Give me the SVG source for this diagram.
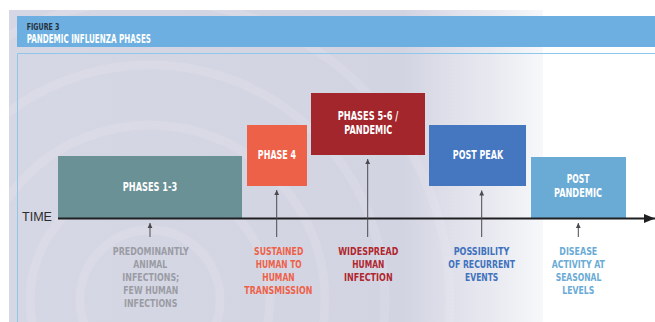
<svg xmlns="http://www.w3.org/2000/svg" width="655" height="322" viewBox="0 0 655 322">
  <defs>
    <linearGradient id="panelFade" x1="9" y1="0" x2="543" y2="0" gradientUnits="userSpaceOnUse">
      <stop offset="0" stop-color="#d6d7e4"/>
      <stop offset="0.74" stop-color="#d3d4e2"/>
      <stop offset="0.9" stop-color="#e8e9f0"/>
      <stop offset="1" stop-color="#f7f8fa"/>
    </linearGradient>
    <clipPath id="panelClip">
      <rect x="9" y="10" width="534" height="312"/>
    </clipPath>
    <marker id="tick" markerWidth="6" markerHeight="6" refX="5" refY="3" orient="auto" markerUnits="userSpaceOnUse">
      <path d="M0,0.6 L5,3 L0,5.4 Z" fill="#4a4a4e"/>
    </marker>
    <marker id="axisHead" markerWidth="12" markerHeight="10" refX="11" refY="5" orient="auto" markerUnits="userSpaceOnUse">
      <path d="M0,0.5 L11,5 L0,9.5 Z" fill="#1f1f22"/>
    </marker>
  </defs>
  <style>
    .box-text { font-family: "DejaVu Sans Condensed", "DejaVu Sans", sans-serif; font-stretch: condensed; font-weight: bold; font-size: 12.5px; fill: #ffffff; text-anchor: middle; }
    .note { font-family: "DejaVu Sans Condensed", "DejaVu Sans", sans-serif; font-stretch: condensed; font-weight: bold; font-size: 11.3px; text-anchor: middle; }
    .ring { fill: none; stroke: #ffffff; stroke-opacity: 0.1; stroke-width: 9; }
    .pointer { stroke: #4a4a4e; stroke-width: 1; fill: none; }
  </style>

  <!-- page background -->
  <rect x="0" y="0" width="655" height="322" fill="#ffffff"/>
  <rect x="9" y="10" width="534" height="312" fill="url(#panelFade)"/>

  <!-- faint concentric rings behind the timeline -->
  <g clip-path="url(#panelClip)">
    <circle class="ring" cx="150" cy="300" r="70"/>
    <circle class="ring" cx="150" cy="300" r="120"/>
    <circle class="ring" cx="150" cy="300" r="175"/>
    <circle class="ring" cx="150" cy="300" r="235"/>
    <circle class="ring" cx="150" cy="300" r="300"/>
  </g>

  <!-- title bar -->
  <g id="title">
    <rect x="17" y="16" width="638" height="31" fill="#6cafe0"/>
    <text x="26.7" y="29.5" font-family="DejaVu Sans Condensed, DejaVu Sans, sans-serif" font-stretch="condensed" font-weight="bold" font-size="9" fill="#27313d" textLength="32.7" lengthAdjust="spacingAndGlyphs">FIGURE 3</text>
    <text x="26.7" y="42.5" font-family="DejaVu Sans Condensed, DejaVu Sans, sans-serif" font-stretch="condensed" font-weight="bold" font-size="11.5" fill="#ffffff" textLength="124.3" lengthAdjust="spacingAndGlyphs">PANDEMIC INFLUENZA PHASES</text>
  </g>

  <!-- frame lines -->
  <path d="M17.5,322 V53.5 H655" fill="none" stroke="#8ec6ec" stroke-width="1"/>

  <!-- phase blocks -->
  <g id="phases-1-3">
    <rect x="58" y="156" width="184" height="62" fill="#6a9196"/>
    <text class="box-text" x="150" y="190.5" textLength="54.3" lengthAdjust="spacingAndGlyphs">PHASES 1-3</text>
  </g>
  <g id="phase-4">
    <rect x="247" y="125" width="60" height="61" fill="#ee6149"/>
    <text class="box-text" x="277" y="158.5" textLength="38.3" lengthAdjust="spacingAndGlyphs">PHASE 4</text>
  </g>
  <g id="phases-5-6">
    <rect x="311" y="93" width="114" height="62" fill="#a3262d"/>
    <text class="box-text" x="368" y="120" textLength="60.7" lengthAdjust="spacingAndGlyphs">PHASES 5-6 /</text>
    <text class="box-text" x="368.3" y="133.5" textLength="48" lengthAdjust="spacingAndGlyphs">PANDEMIC</text>
  </g>
  <g id="post-peak">
    <rect x="429" y="125" width="97" height="61" fill="#4477c0"/>
    <text class="box-text" x="478" y="158.5" textLength="50.3" lengthAdjust="spacingAndGlyphs">POST PEAK</text>
  </g>
  <g id="post-pandemic">
    <rect x="531" y="157" width="95" height="61" fill="#6aabd5"/>
    <text class="box-text" x="578" y="183" textLength="22.7" lengthAdjust="spacingAndGlyphs">POST</text>
    <text class="box-text" x="578" y="197" textLength="48" lengthAdjust="spacingAndGlyphs">PANDEMIC</text>
  </g>

  <!-- time axis and pointers -->
  <g id="connectors">
    <line x1="58" y1="218.5" x2="655" y2="218.5" stroke="#1f1f22" stroke-width="2" marker-end="url(#axisHead)"/>
    <line class="pointer" x1="150" y1="237" x2="150" y2="223" marker-end="url(#tick)"/>
    <line class="pointer" x1="276.7" y1="237" x2="276.7" y2="190" marker-end="url(#tick)"/>
    <line class="pointer" x1="367.7" y1="237" x2="367.7" y2="159" marker-end="url(#tick)"/>
    <line class="pointer" x1="481.7" y1="237" x2="481.7" y2="190.5" marker-end="url(#tick)"/>
    <line class="pointer" x1="578.3" y1="237" x2="578.3" y2="223" marker-end="url(#tick)"/>
  </g>
  <text x="22" y="220.5" font-family="Liberation Sans, Arial, sans-serif" font-size="12" fill="#2b2b2e" textLength="30" lengthAdjust="spacingAndGlyphs">TIME</text>

  <!-- phase descriptions -->
  <g id="note-1-3" class="note" fill="#9a9ca4">
    <text x="150.8" y="255" textLength="76" lengthAdjust="spacingAndGlyphs">PREDOMINANTLY</text>
    <text x="150.3" y="268.3" textLength="34" lengthAdjust="spacingAndGlyphs">ANIMAL</text>
    <text x="150.8" y="281" textLength="57" lengthAdjust="spacingAndGlyphs">INFECTIONS;</text>
    <text x="150.8" y="294" textLength="55" lengthAdjust="spacingAndGlyphs">FEW HUMAN</text>
    <text x="150.7" y="307" textLength="53.3" lengthAdjust="spacingAndGlyphs">INFECTIONS</text>
  </g>
  <g id="note-4" class="note" fill="#ee6149">
    <text x="278.7" y="255" textLength="49.3" lengthAdjust="spacingAndGlyphs">SUSTAINED</text>
    <text x="278.7" y="268.3" textLength="46" lengthAdjust="spacingAndGlyphs">HUMAN TO</text>
    <text x="278.5" y="281" textLength="32.3" lengthAdjust="spacingAndGlyphs">HUMAN</text>
    <text x="278.3" y="294" textLength="68" lengthAdjust="spacingAndGlyphs">TRANSMISSION</text>
  </g>
  <g id="note-5-6" class="note" fill="#b0272e">
    <text x="368.3" y="255" textLength="60" lengthAdjust="spacingAndGlyphs">WIDESPREAD</text>
    <text x="368.3" y="268.3" textLength="32" lengthAdjust="spacingAndGlyphs">HUMAN</text>
    <text x="368.3" y="281" textLength="48.7" lengthAdjust="spacingAndGlyphs">INFECTION</text>
  </g>
  <g id="note-post-peak" class="note" fill="#3f72bd">
    <text x="481.5" y="255" textLength="55.7" lengthAdjust="spacingAndGlyphs">POSSIBILITY</text>
    <text x="481.7" y="268.3" textLength="66.7" lengthAdjust="spacingAndGlyphs">OF RECURRENT</text>
    <text x="481.7" y="281" textLength="33.3" lengthAdjust="spacingAndGlyphs">EVENTS</text>
  </g>
  <g id="note-post-pandemic" class="note" fill="#6aabd5">
    <text x="578.3" y="255" textLength="38" lengthAdjust="spacingAndGlyphs">DISEASE</text>
    <text x="578.3" y="268.3" textLength="53.3" lengthAdjust="spacingAndGlyphs">ACTIVITY AT</text>
    <text x="578.5" y="281" textLength="45.7" lengthAdjust="spacingAndGlyphs">SEASONAL</text>
    <text x="578.3" y="294" textLength="32" lengthAdjust="spacingAndGlyphs">LEVELS</text>
  </g>
</svg>
